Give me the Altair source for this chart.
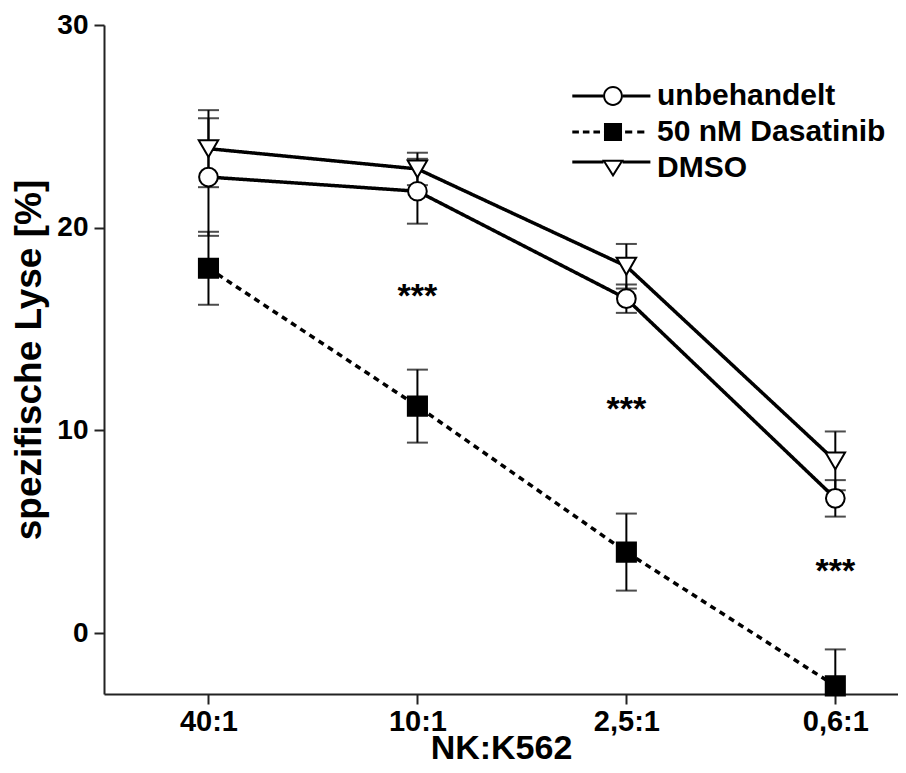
import altair as alt
import pandas as pd

# ---- data ----
categories = ["40:1", "10:1", "2,5:1", "0,6:1"]
series = ["unbehandelt", "50 nM Dasatinib", "DMSO"]

unbehandelt_mean = [22.5, 21.8, 16.5, 6.65]
unbehandelt_err = [2.9, 1.6, 0.7, 0.9]
dasatinib_mean = [18.0, 11.2, 4.0, -2.6]
dasatinib_err = [1.8, 1.8, 1.9, 1.8]
dmso_mean = [23.9, 22.9, 18.1, 8.5]
dmso_err = [1.9, 0.8, 1.1, 1.45]

star_categories = ["10:1", "2,5:1", "0,6:1"]
star_values = [16.6, 11.0, 3.0]
star_text = ["***", "***", "***"]

y_ticks = [0, 10, 20, 30]

FONT = "Liberation Sans"

rows = []
for name, means, errs in [
    (series[0], unbehandelt_mean, unbehandelt_err),
    (series[1], dasatinib_mean, dasatinib_err),
    (series[2], dmso_mean, dmso_err),
]:
    for i, (c, m, e) in enumerate(zip(categories, means, errs)):
        rows.append({"series": name, "cat": c, "idx": i, "mean": m,
                     "lo": m - e, "hi": m + e})
df = pd.DataFrame(rows)

stars = pd.DataFrame({
    "idx": [categories.index(c) for c in star_categories],
    "y": star_values,
    "t": star_text,
})

label_expr = "[" + ",".join("'" + c + "'" for c in categories) + "][datum.value]"

x_scale = alt.Scale(domain=[-0.5, 3.3], nice=False, zero=False)
x_enc = alt.X(
    "idx:Q", scale=x_scale,
    axis=alt.Axis(values=[0, 1, 2, 3], labelExpr=label_expr, title="NK:K562",
                  grid=False, labelPadding=3, labelFontSize=29,
                  titleBaseline="alphabetic", titleY=64, titleFontSize=34),
)
y_scale = alt.Scale(domain=[-3, 30], nice=False, zero=False)
y_enc = alt.Y(
    "mean:Q", scale=y_scale,
    axis=alt.Axis(values=y_ticks, title="spezifische Lyse [%]", grid=False,
                  labelPadding=6, titlePadding=8, titleFontSize=37),
)

base = alt.Chart(df)

lines = base.mark_line(color="black", strokeWidth=3.5).encode(
    x=x_enc, y=y_enc,
    strokeDash=alt.StrokeDash(
        "series:N",
        scale=alt.Scale(domain=series, range=[[1, 0], [6, 5], [1, 0]]),
        legend=None,
    ),
    detail="series:N",
)

err_rule = base.mark_rule(color="black", strokeWidth=2, clip=True).encode(
    x=x_enc, y=alt.Y("lo:Q", scale=y_scale), y2="hi:Q"
)
cap_lo = base.mark_tick(color="black", thickness=2, size=21,
                        orient="horizontal", clip=True).encode(
    x=x_enc, y=alt.Y("lo:Q", scale=y_scale)
)
cap_hi = base.mark_tick(color="black", thickness=2, size=21,
                        orient="horizontal", clip=True).encode(
    x=x_enc, y=alt.Y("hi:Q", scale=y_scale)
)

points = base.mark_point(stroke="black", strokeWidth=2, opacity=1).encode(
    x=x_enc, y=y_enc,
    shape=alt.Shape("series:N",
                    scale=alt.Scale(domain=series,
                                    range=["circle", "square", "triangle-down"]),
                    legend=None),
    fill=alt.Fill("series:N",
                  scale=alt.Scale(domain=series, range=["white", "black", "white"]),
                  legend=None),
    size=alt.Size("series:N",
                  scale=alt.Scale(domain=series, range=[350, 380, 420]),
                  legend=None),
)

# legend symbols: line + marker as one filled path each (unit = 11 px)
def rect(x0, x1, y=0.0, h=0.13):
    return f"M{x0},{y - h}L{x1},{y - h}L{x1},{y + h}L{x0},{y + h}Z"

p_circle = (rect(-3.7, -0.9) + rect(0.9, 3.4)
            + "M-0.9,0A0.9,0.9,0,1,1,0.9,0A0.9,0.9,0,1,1,-0.9,0Z"
            + "M-0.72,0A0.72,0.72,0,1,0,0.72,0A0.72,0.72,0,1,0,-0.72,0Z")
p_square = (rect(-3.7, -3.1) + rect(-2.74, -2.14) + rect(-1.78, -1.18)
            + "M-0.82,-0.82L0.82,-0.82L0.82,0.82L-0.82,0.82Z"
            + rect(1.1, 1.75) + rect(2.2, 2.85))
p_tri = (rect(-3.7, -0.87, y=-0.55) + rect(0.87, 3.4, y=-0.55)
         + "M-1,-0.75L1,-0.75L0,0.85Z"
         + "M-0.675,-0.57L0,0.51L0.675,-0.57Z")

leg = alt.Legend(
    orient="none", legendX=494, legendY=56, title=None,
    labelFont=FONT, labelFontSize=30, labelFontWeight="bold", labelColor="black",
    labelLimit=500, symbolSize=484, symbolStrokeWidth=0,
    symbolFillColor="black", symbolOpacity=1,
    labelOffset=29, rowPadding=6, padding=0,
)

legend_layer = base.transform_filter("false").mark_point(
    filled=True, color="black", opacity=1, strokeWidth=0
).encode(
    x=x_enc, y=y_enc,
    shape=alt.Shape("series:N",
                    scale=alt.Scale(domain=series, range=[p_circle, p_square, p_tri]),
                    legend=leg),
)

star_layer = alt.Chart(stars).mark_text(
    font=FONT, fontSize=34, fontWeight="bold", color="black", baseline="middle"
).encode(
    x=alt.X("idx:Q", scale=x_scale),
    y=alt.Y("y:Q", scale=y_scale),
    text="t:N",
)

chart = alt.layer(
    lines, err_rule, cap_lo, cap_hi, points, star_layer, legend_layer
).resolve_scale(
    shape="independent", fill="independent"
).properties(
    width=794, height=669,
    padding={"left": 96, "top": 17, "right": 0, "bottom": 71},
    autosize=alt.AutoSizeParams(type="none"),
).configure_view(stroke=None).configure_axis(
    domainColor="#222222", domainWidth=2, tickColor="#222222", tickWidth=2,
    tickSize=10, labelFont=FONT, labelFontSize=28, labelFontWeight="bold",
    labelColor="black", titleFont=FONT, titleFontSize=34, titleFontWeight="bold",
    titleColor="black",
)

chart.save("out.html", embed_options={"renderer": "svg", "actions": False})
